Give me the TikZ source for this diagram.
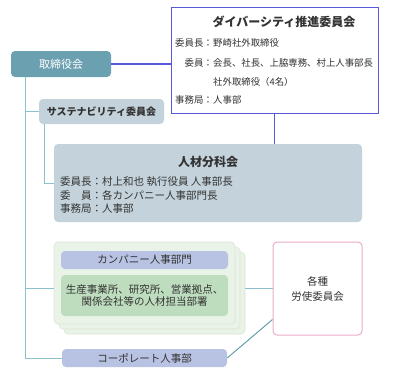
\documentclass[tikz,border=0pt]{standalone}
\usepackage{fontspec}
\setmainfont{Noto Sans CJK JP}
\usepackage{xcolor}

\definecolor{boardteal}{RGB}{107,160,176}
\definecolor{tealline}{RGB}{140,192,205}
\definecolor{diagteal}{RGB}{100,160,176}
\definecolor{divblue}{RGB}{88,88,218}
\definecolor{paleslate}{RGB}{196,211,219}
\definecolor{stackgreen}{RGB}{234,243,231}
\definecolor{stackedge}{RGB}{216,231,212}
\definecolor{lavender}{RGB}{184,194,226}
\definecolor{sitegreen}{RGB}{190,221,190}
\definecolor{unionpink}{RGB}{236,172,202}
\definecolor{textgray}{RGB}{51,51,51}

\begin{document}
\begin{tikzpicture}[x=1pt, y=-1pt,
		every node/.style={inner sep=0pt, text=textgray},
		boxsize/.style 2 args={minimum width=#1pt, minimum height=#2pt},
		boardbox/.style={fill=boardteal, rounded corners=4pt, text=white, font=\fontsize{11}{13}\selectfont},
		divbox/.style={draw=divblue, line width=1pt, fill=white},
		slatebox/.style={fill=paleslate, rounded corners=4pt},
		stackbox/.style={fill=stackgreen, draw=stackedge, line width=0.6pt, rounded corners=4pt},
		lavbox/.style={fill=lavender, rounded corners=4pt, font=\fontsize{10.5}{12.5}\selectfont},
		sitebox/.style={fill=sitegreen, rounded corners=4pt},
		unionbox/.style={draw=unionpink, line width=1pt, fill=white, rounded corners=4pt},
		smalltext/.style={font=\fontsize{9.4}{11}\selectfont},
		bodytext/.style={font=\fontsize{10.5}{12.5}\selectfont},
		teal/.style={draw=tealline, line width=1pt},
		blueline/.style={draw=divblue, line width=1.1pt}]
		
		\useasboundingbox (0,0) rectangle (415,370);
		
		% board
		\node[boardbox, boxsize={100}{26}] (board) at (61,64) {取締役会};
		
		% diversity committee
		\node[divbox, boxsize={207}{106}] (div) at (274.5,60) {};
		\node[font=\fontsize{12}{14}\selectfont\bfseries] (divtitle) at (284,22) {ダイバーシティ推進委員会};
		\node[smalltext, anchor=east] (divchairkey) at (213,43) {委員長：};
		\node[smalltext, anchor=west] (divchair) at (213,43) {野崎社外取締役};
		\node[smalltext, anchor=east] (divmemkey) at (213,63) {委員：};
		\node[smalltext, anchor=west] (divmem) at (213,63) {会長、社長、上脇専務、村上人事部長};
		\node[smalltext, anchor=west] (divmemtwo) at (213,82) {社外取締役（4名）};
		\node[smalltext, anchor=east] (divofficekey) at (213,100) {事務局：};
		\node[smalltext, anchor=west] (divoffice) at (213,100) {人事部};
		
		% sustainability committee
		\node[slatebox, boxsize={125}{25}, font=\fontsize{10}{12}\selectfont\bfseries] (sus) at (101.5,111.5) {サステナビリティ委員会};
		
		% human resources subcommittee
		\node[slatebox, boxsize={308}{78}] (jin) at (208,183) {};
		\node[font=\fontsize{12}{14}\selectfont\bfseries] (jintitle) at (208,162) {人材分科会};
		\node[bodytext, anchor=west] (jinchair) at (60,182) {委員長：村上和也 執行役員 人事部長};
		\node[bodytext, anchor=west] (jinmem) at (60,195.5) {委\hspace{1em}員：各カンパニー人事部門長};
		\node[bodytext, anchor=west] (jinoffice) at (60,209) {事務局：人事部};
		
		% stacked company units
		\node[stackbox, boxsize={181}{82}] (stack3) at (154.5,293) {};
		\node[stackbox, boxsize={181}{82}] (stack2) at (149.5,288) {};
		\node[stackbox, boxsize={181}{82}] (stack1) at (144.5,283) {};
		\node[lavbox, boxsize={167}{18}] (company) at (144.5,260) {カンパニー人事部門};
		\node[sitebox, boxsize={167}{41}, bodytext, align=center] (sites) at (144.5,295.5) {生産事業所、研究所、営業拠点、\\関係会社等の人材担当部署};
		
		% labour committees
		\node[unionbox, boxsize={89}{93}, font=\fontsize{10.5}{15}\selectfont, align=center] (union) at (317.5,288.5) {各種\\労使委員会};
		
		% corporate HR
		\node[lavbox, boxsize={165}{18}] (corp) at (144.5,358) {コーポレート人事部};
		
		% teal connectors
		\coordinate (trunk) at ([xshift=15pt]board.south west);
		\draw[teal] (trunk) |- (corp.west);
		\draw[teal] (trunk |- sus.west) -- (sus.west);
		\draw[teal] ([xshift=6pt]sus.south west) |- (jin.west);
		\draw[teal] (trunk |- union.west) -- (stack1.west |- union.west);
		\draw[teal] (stack3.east |- union.west) -- (union.west);
		\draw[draw=diagteal, line width=1pt] (corp.east) -- ([yshift=-31pt]union.west);
		
		% blue connectors
		\draw[blueline] (board.east) -- (board.east -| div.west);
		\draw[blueline] (div.south) -- (div.south |- jin.north);
		
	\end{tikzpicture}
\end{document}
